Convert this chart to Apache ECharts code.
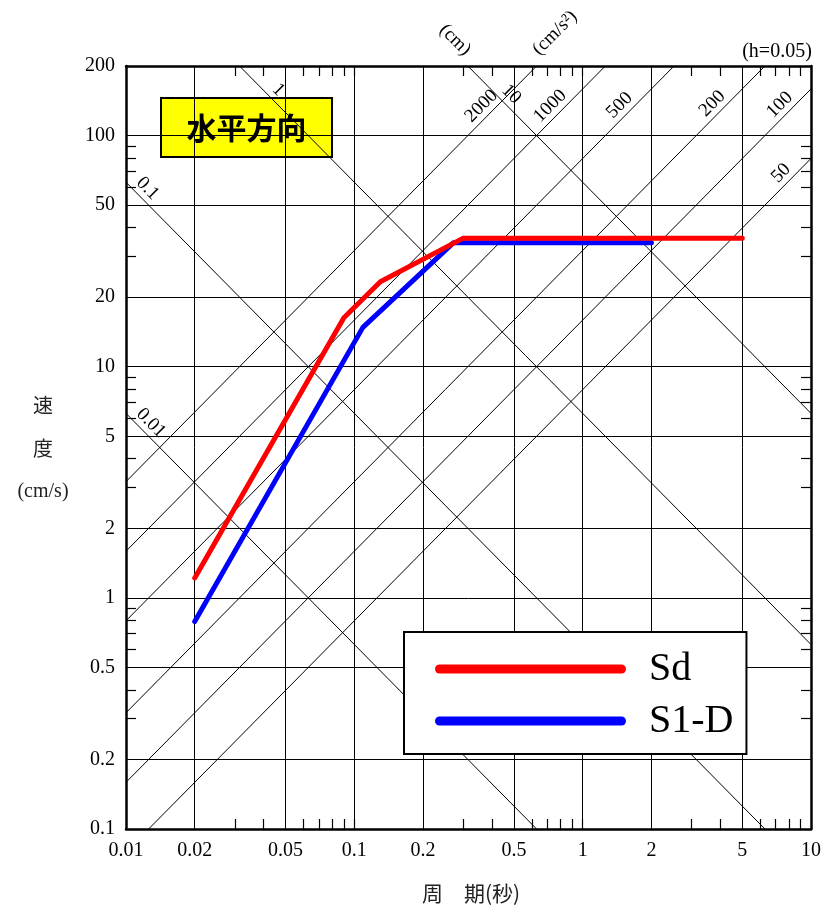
<!DOCTYPE html>
<html>
<head>
<meta charset="utf-8">
<script src="https://cdn.jsdelivr.net/npm/echarts@6/dist/echarts.min.js"></script>
<style>
  html, body { margin: 0; padding: 0; background: #fff; }
  #chart { width: 823px; height: 911px; }
</style>
</head>
<body>
<div id="chart"></div>
<script>
// 周期(秒) 目盛
const periodTicks = [0.01, 0.02, 0.05, 0.1, 0.2, 0.5, 1, 2, 5, 10]
const periodMinor = [0.03, 0.04, 0.06, 0.07, 0.08, 0.09, 0.1, 0.3, 0.4, 0.6, 0.7, 0.8, 0.9, 1, 3, 4, 6, 7, 8, 9]
// 速度(cm/s) 目盛
const velTicks = [0.1, 0.2, 0.5, 1, 2, 5, 10, 20, 50, 100, 200]
const velMinor = [0.3, 0.4, 0.6, 0.7, 0.8, 0.9, 3, 4, 6, 7, 8, 9, 30, 40, 60, 70, 80, 90]
// 変位(cm) の斜線とラベル位置(周期)
const dispLines = [0.01, 0.1, 1, 10]
const dispLabelT = [0.0119, 0.0115, 0.043, 0.45]
// 加速度(cm/s2) の斜線とラベル位置(周期)
const accLines = [50, 100, 200, 500, 1000, 2000]
const accLabelT = [8.0, 7.9, 4.0, 1.57, 0.78, 0.39]
// スペクトル
const sdPeriod = [0.02, 0.09, 0.13, 0.3, 5]
const sdVel = [1.22, 16.3, 23.3, 36, 36]
const s1dPeriod = [0.02, 0.109, 0.272, 2]
const s1dVel = [0.79, 14.8, 34.4, 34.4]

const T0 = 0.01, T1 = 10, V0 = 0.1, V1 = 200
const W = 2 * Math.PI
const serif = 'Liberation Serif'
const cjk = '"Noto Sans CJK JP"'

// 格子線
const gridCoords = []
periodTicks.slice(1, -1).forEach(t => gridCoords.push({ coords: [[t, V0], [t, V1]] }))
velTicks.slice(1, -1).forEach(v => gridCoords.push({ coords: [[T0, v], [T1, v]] }))

// 斜線 (枠内で切る)
const diagCoords = []
dispLines.forEach(d => {
  const ta = Math.max(T0, W * d / V1), tb = Math.min(T1, W * d / V0)
  diagCoords.push({ coords: [[ta, W * d / ta], [tb, W * d / tb]] })
})
accLines.forEach(a => {
  const ta = Math.max(T0, V0 * W / a), tb = Math.min(T1, V1 * W / a)
  diagCoords.push({ coords: [[ta, a * ta / W], [tb, a * tb / W]] })
})

// 斜線ラベル
const diagLabels = []
dispLines.forEach((d, i) => {
  const t = dispLabelT[i]
  diagLabels.push({ value: [t, W * d / t], text: String(d), asc: false })
})
accLines.forEach((a, i) => {
  const t = accLabelT[i]
  diagLabels.push({ value: [t, a * t / W], text: String(a), asc: true })
})

const fmt = v => String(+(+v).toPrecision(3))

const chart = echarts.init(document.getElementById('chart'))

const axisCommon = {
  type: 'log',
  logBase: 10,
  axisLine: { show: true, onZero: false, lineStyle: { color: '#000', width: 2.5 } },
  splitLine: { show: false },
  minorTick: { show: false },
  minorSplitLine: { show: false }
}

chart.setOption({
  animation: false,
  backgroundColor: '#fff',
  grid: { left: 126, top: 66, width: 685, height: 763, outerBoundsMode: 'none', containLabel: false },
  xAxis: [
    Object.assign({}, axisCommon, {
      position: 'bottom', min: T0, max: T1,
      axisTick: { show: true, inside: true, length: 10, customValues: periodMinor, lineStyle: { color: '#000', width: 1.2 } },
      axisLabel: { show: true, customValues: periodTicks, formatter: fmt, margin: 12, color: '#000', fontFamily: serif, fontSize: 20 }
    }),
    Object.assign({}, axisCommon, {
      position: 'top', min: T0, max: T1,
      axisTick: { show: true, inside: true, length: 10, customValues: periodMinor, lineStyle: { color: '#000', width: 1.2 } },
      axisLabel: { show: false }
    })
  ],
  yAxis: [
    Object.assign({}, axisCommon, {
      position: 'left', min: V0, max: V1,
      axisTick: { show: true, inside: true, length: 10, customValues: velMinor, lineStyle: { color: '#000', width: 1.2 } },
      axisLabel: { show: true, customValues: velTicks, formatter: fmt, margin: 11, color: '#000', fontFamily: serif, fontSize: 20 }
    }),
    Object.assign({}, axisCommon, {
      position: 'right', min: V0, max: V1,
      axisTick: { show: true, inside: true, length: 10, customValues: velMinor, lineStyle: { color: '#000', width: 1.2 } },
      axisLabel: { show: false }
    })
  ],
  legend: {
    data: ['Sd', 'S1-D'],
    orient: 'vertical',
    left: 404,
    top: 632,
    padding: [17, 13, 13, 31],
    itemWidth: 191,
    itemHeight: 9,
    itemGap: 12,
    backgroundColor: '#fff',
    borderColor: '#000',
    borderWidth: 2,
    icon: 'path://M4.5,0 H186.5 A4.5,4.5 0 0 1 186.5,9 H4.5 A4.5,4.5 0 0 1 4.5,0 Z',
    textStyle: { fontFamily: serif, fontSize: 40, lineHeight: 40, color: '#000', padding: [0, 0, 0, 18] }
  },
  graphic: [
    {
      type: 'group', left: 160, top: 97,
      children: [
        { type: 'rect', shape: { x: 0, y: 0, width: 171, height: 59 }, style: { fill: '#ffff00', stroke: '#000', lineWidth: 2 } },
        { type: 'text', x: 85.5, y: 30, style: { text: '水平方向', font: 'bold 30px ' + cjk, fill: '#000', align: 'center', verticalAlign: 'middle' } }
      ]
    },
    { type: 'text', x: 43, y: 405, style: { text: '速', font: '20px ' + cjk, fill: '#222', align: 'center', verticalAlign: 'middle' } },
    { type: 'text', x: 43, y: 448, style: { text: '度', font: '20px ' + cjk, fill: '#222', align: 'center', verticalAlign: 'middle' } },
    { type: 'text', x: 43, y: 492, style: { text: '(cm/s)', font: '20px ' + serif, fill: '#222', align: 'center', verticalAlign: 'middle' } },
    { type: 'text', x: 471, y: 893, style: { text: '周　期(秒)', font: '21px ' + cjk, fill: '#222', align: 'center', verticalAlign: 'middle' } },
    { type: 'text', x: 777, y: 52, style: { text: '(h=0.05)', font: '20px ' + serif, fill: '#000', align: 'center', verticalAlign: 'middle' } },
    { type: 'text', x: 455, y: 40, rotation: -Math.PI / 4, style: { text: '(cm)', font: '19px ' + serif, fill: '#000', align: 'center', verticalAlign: 'middle' } },
    { type: 'text', x: 555, y: 33, rotation: Math.PI / 4, style: { text: '(cm/s²)', font: '19px ' + serif, fill: '#000', align: 'center', verticalAlign: 'middle' } }
  ],
  series: [
    {
      name: 'grid',
      type: 'lines',
      coordinateSystem: 'cartesian2d',
      silent: true,
      z: 1,
      lineStyle: { color: '#000', width: 1, opacity: 1 },
      data: gridCoords
    },
    {
      name: 'diag',
      type: 'lines',
      coordinateSystem: 'cartesian2d',
      silent: true,
      z: 2,
      lineStyle: { color: '#000', width: 1, opacity: 1 },
      data: diagCoords
    },
    {
      name: 'diagLabel',
      type: 'custom',
      silent: true,
      clip: false,
      z: 3,
      data: diagLabels.map(l => l.value),
      renderItem (params, api) {
        const lab = diagLabels[params.dataIndex]
        const p = api.coord([api.value(0), api.value(1)])
        const s = Math.SQRT1_2 * 11
        return {
          type: 'text',
          x: p[0] + (lab.asc ? -s : s),
          y: p[1] - s,
          rotation: lab.asc ? Math.PI / 4 : -Math.PI / 4,
          style: { text: lab.text, font: '19px ' + serif, fill: '#000', align: 'center', verticalAlign: 'middle' }
        }
      }
    },
    {
      name: 'S1-D',
      type: 'line',
      z: 5,
      symbol: 'none',
      color: '#0000ff',
      lineStyle: { color: '#0000ff', width: 5, cap: 'round', join: 'round' },
      data: s1dPeriod.map((t, i) => [t, s1dVel[i]])
    },
    {
      name: 'Sd',
      type: 'line',
      z: 6,
      symbol: 'none',
      color: '#ff0000',
      lineStyle: { color: '#ff0000', width: 5, cap: 'round', join: 'round' },
      data: sdPeriod.map((t, i) => [t, sdVel[i]])
    }
  ]
})
</script>
</body>
</html>
